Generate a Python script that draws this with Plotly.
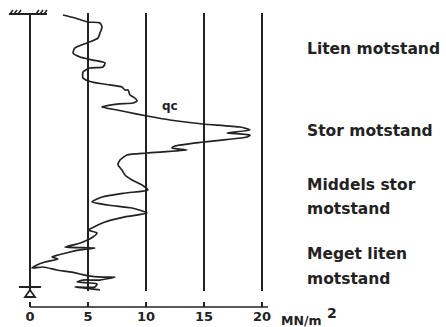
import plotly.graph_objects as go

# ---------------- data ----------------
# cone resistance qc (MN/m2) versus depth (m, downwards)
qc = [2.84, 3.88, 5.00, 6.03, 6.21, 6.03, 5.86, 4.91, 3.88, 3.71, 4.31, 5.43, 6.47, 6.29,
      5.17, 4.57, 4.57, 5.34, 6.90, 7.93, 8.19, 8.45, 8.62, 9.05, 9.22, 8.88, 7.50, 6.21,
      7.50, 8.36, 10.09, 12.07, 14.91, 18.10, 18.97, 16.98, 18.97, 18.71, 14.91, 12.50,
      12.24, 13.53, 10.09, 8.36, 7.76, 7.59, 7.93, 8.19, 8.79, 9.66, 10.17, 8.19, 6.21,
      5.34, 6.72, 8.79, 10.09, 8.19, 6.47, 5.34, 5.00, 5.78, 5.43, 4.57, 4.05, 3.02, 5.60,
      4.31, 3.45, 2.41, 1.90, 2.41, 1.29, 0.60, 0.17, 1.12, 2.33, 3.45, 4.31, 5.00, 6.29,
      7.33, 6.03, 4.57, 4.05, 5.78, 5.60, 3.88, 4.74, 6.03]
depth = [0.07, 0.29, 0.58, 0.65, 0.95, 1.38, 1.75, 2.11, 2.47, 2.84, 3.13, 3.35, 3.56, 3.85,
         3.93, 4.22, 4.65, 4.95, 5.16, 5.31, 5.53, 5.53, 5.89, 6.11, 6.33, 6.47, 6.55, 6.76,
         6.98, 7.13, 7.42, 7.71, 8.00, 8.22, 8.44, 8.65, 8.80, 8.95, 9.31, 9.60,
         9.75, 9.89, 10.11, 10.25, 10.62, 10.98, 11.35, 11.71, 12.07, 12.44, 12.80, 13.02, 13.31,
         13.67, 13.89, 14.11, 14.47, 14.76, 15.13, 15.56, 15.71, 15.93, 16.22, 16.58, 16.73, 16.95, 17.02,
         17.16, 17.31, 17.53, 17.67, 17.82, 18.04, 18.25, 18.47, 18.40, 18.62, 18.76, 18.91, 19.05, 19.13,
         19.13, 19.35, 19.35, 19.49, 19.64, 19.85, 19.85, 19.93, 20.07]

tick_values = [0, 5, 10, 15, 20]
tick_labels = ["0", "5", "10", "15", "20"]
unit_label = "MN/m"
unit_exp = "2"
curve_label = "qc"
zone_lines = ["Liten motstand", "Stor motstand", "Middels stor", "motstand", "Meget liten", "motstand"]
zone_depths = [2.52, 8.52, 12.45, 14.19, 17.45, 19.27]

# ---------------- layout geometry ----------------
W, H = 446, 327
MB = 20
PH = H - MB                     # paper height in px
PXU = 11.6                      # px per MN/m2
X0 = 30                         # px of qc = 0
PXM = 13.75                     # px per m depth
Y0 = 14                         # px of depth 0
ytop_px, ybot_px = 13, 291

def xd(px):
    return (px - X0) / PXU

def yp(py):
    return (PH - py) / PH

INK = "#222222"
FONT = "DejaVu Sans"

fig = go.Figure()
fig.add_trace(go.Scatter(x=qc, y=depth, mode="lines",
                         line=dict(color=INK, width=1.7, shape="spline", smoothing=0.6),
                         hoverinfo="skip", showlegend=False))

shapes = []
# x axis baseline
shapes.append(dict(type="line", xref="x", yref="paper", x0=0, x1=xd(268), y0=0, y1=0,
                   line=dict(color=INK, width=1.6)))
# ground surface symbol
shapes.append(dict(type="line", xref="x", yref="paper", x0=xd(9), x1=xd(47), y0=yp(14), y1=yp(14),
                   line=dict(color=INK, width=2)))
for hx in [10, 14, 18, 36, 40, 44]:
    shapes.append(dict(type="line", xref="x", yref="paper", x0=xd(hx), x1=xd(hx + 3),
                       y0=yp(14), y1=yp(10), line=dict(color=INK, width=1.5)))
# bottom (stop) symbol
shapes.append(dict(type="line", xref="x", yref="paper", x0=xd(19), x1=xd(41), y0=yp(287), y1=yp(287),
                   line=dict(color=INK, width=2)))
tri = "M {a},{b} L {c},{d} L {e},{d} Z".format(a=xd(30), b=yp(290), c=xd(25), d=yp(297), e=xd(35))
shapes.append(dict(type="path", xref="x", yref="paper", path=tri,
                   line=dict(color=INK, width=1.8), fillcolor="white"))

ann = []
for txt, d in zip(zone_lines, zone_depths):
    ann.append(dict(x=xd(305), y=d, xref="x", yref="y", text=txt, showarrow=False,
                    xanchor="left", yanchor="middle",
                    font=dict(family=FONT, size=15.5, color=INK, weight="bold")))
ann.append(dict(x=12.07, y=6.69, xref="x", yref="y", text=curve_label, showarrow=False,
                font=dict(family=FONT, size=12, color=INK, weight="bold")))
ann.append(dict(x=xd(279), y=yp(320), xref="x", yref="paper", text=unit_label, showarrow=False,
                xanchor="left", yanchor="middle",
                font=dict(family=FONT, size=12.5, color=INK, weight="bold")))
ann.append(dict(x=xd(325), y=yp(313), xref="x", yref="paper", text=unit_exp, showarrow=False,
                xanchor="left", yanchor="middle",
                font=dict(family=FONT, size=14, color=INK, weight="bold")))

fig.update_layout(
    width=W, height=H,
    margin=dict(l=0, r=0, t=0, b=MB),
    paper_bgcolor="white", plot_bgcolor="white",
    showlegend=False,
    shapes=shapes, annotations=ann,
    xaxis=dict(domain=[0, 1], range=[xd(0), xd(W)], anchor="free", position=0,
               showline=False, zeroline=False,
               tickmode="array", tickvals=tick_values, ticktext=tick_labels,
               ticks="inside", ticklen=5, tickwidth=1.6, tickcolor=INK,
               showgrid=True, gridcolor=INK, gridwidth=2,
               tickfont=dict(family=FONT, size=13, color=INK, weight="bold"),
               fixedrange=True),
    yaxis=dict(domain=[yp(ybot_px), yp(ytop_px)],
               range=[(ybot_px - Y0) / PXM, (ytop_px - Y0) / PXM],
               visible=False, fixedrange=True),
)

fig.write_html("out.html", config={"displayModeBar": False},
               post_script="document.body.style.margin='0';document.body.style.overflow='hidden';")
